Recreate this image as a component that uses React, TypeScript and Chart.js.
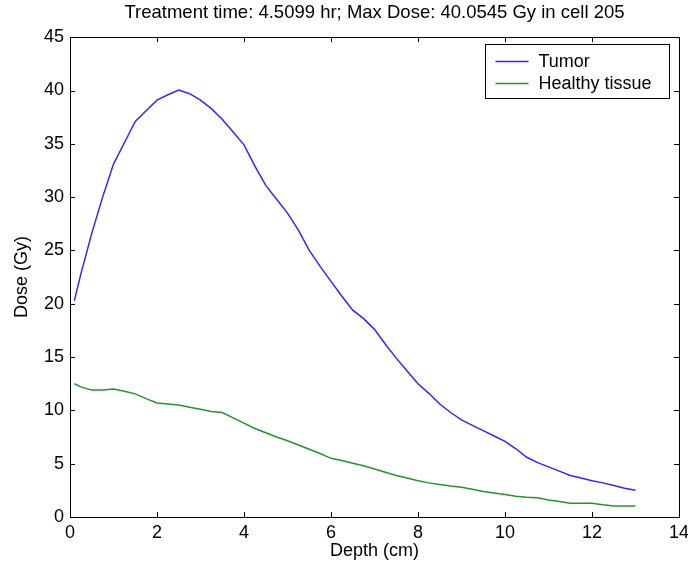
import React, { useEffect, useRef } from "react";
import { Chart, registerables } from "chart.js";

Chart.register(...registerables);

const depths = [
  0.1, 0.25, 0.5, 0.75, 1.0, 1.25, 1.5, 1.75, 2.0, 2.25, 2.5, 2.75, 3.0, 3.25, 3.5, 3.75,
  4.0, 4.25, 4.5, 4.75, 5.0, 5.25, 5.5, 5.75, 6.0, 6.25, 6.5, 6.75, 7.0, 7.25, 7.5, 7.75,
  8.0, 8.25, 8.5, 8.75, 9.0, 9.25, 9.5, 9.75, 10.0, 10.25, 10.5, 10.75, 11.0, 11.25, 11.5,
  11.75, 12.0, 12.25, 12.5, 12.75, 13.0,
];

const tumorDose = [
  20.3, 22.8, 26.6, 30.0, 33.1, 35.1, 37.1, 38.1, 39.1, 39.6, 40.05, 39.7, 39.1, 38.3, 37.3, 36.1,
  34.9, 32.9, 31.1, 29.8, 28.5, 26.9, 25.0, 23.5, 22.1, 20.7, 19.4, 18.6, 17.6, 16.2, 14.9, 13.7,
  12.5, 11.6, 10.6, 9.8, 9.1, 8.6, 8.1, 7.6, 7.1, 6.4, 5.6, 5.1, 4.7, 4.3, 3.9,
  3.65, 3.4, 3.2, 2.95, 2.7, 2.5,
];

const healthyDose = [
  12.5, 12.2, 11.9, 11.9, 12.0, 11.8, 11.55, 11.1, 10.7, 10.6, 10.5, 10.3, 10.1, 9.9, 9.8, 9.3,
  8.8, 8.3, 7.9, 7.5, 7.15, 6.75, 6.35, 5.95, 5.5, 5.3, 5.05, 4.8, 4.5, 4.2, 3.9, 3.65,
  3.4, 3.2, 3.05, 2.9, 2.8, 2.6, 2.4, 2.25, 2.1, 1.95, 1.85, 1.8, 1.6, 1.45, 1.3,
  1.3, 1.3, 1.15, 1.03, 1.03, 1.03,
];

const seriesLabels = ["Tumor", "Healthy tissue"];
const seriesColors = ["#2a2aff", "#2a922a"];
const titleText = "Treatment time: 4.5099 hr; Max Dose: 40.0545 Gy in cell 205";
const xTitle = "Depth (cm)";
const yTitle = "Dose (Gy)";

const FONT = "'Liberation Sans', Arial, sans-serif";
const FS = 18;

const boxPlugin = {
  id: "matlabBox",
  afterDraw(chart: any) {
    const { ctx, chartArea } = chart;
    const { left, right, top, bottom } = chartArea;
    const xs = chart.scales.x;
    const ys = chart.scales.y;
    ctx.save();
    ctx.strokeStyle = "#000";
    ctx.lineWidth = 1;
    ctx.beginPath();
    ctx.rect(Math.round(left) + 0.5, Math.round(top) + 0.5, Math.round(right - left), Math.round(bottom - top));
    ctx.stroke();
    const tl = 5;
    ctx.beginPath();
    xs.ticks.forEach((t: any) => {
      const px = Math.round(xs.getPixelForValue(t.value)) + 0.5;
      ctx.moveTo(px, bottom);
      ctx.lineTo(px, bottom - tl);
      ctx.moveTo(px, top);
      ctx.lineTo(px, top + tl);
    });
    ys.ticks.forEach((t: any) => {
      const py = Math.round(ys.getPixelForValue(t.value)) + 0.5;
      ctx.moveTo(left, py);
      ctx.lineTo(left + tl, py);
      ctx.moveTo(right, py);
      ctx.lineTo(right - tl, py);
    });
    ctx.stroke();

    // legend
    const lw = 184;
    const lh = 54;
    const lx = Math.round(right - 10 - lw) + 0.5;
    const ly = Math.round(top + 7) + 0.5;
    ctx.fillStyle = "#fff";
    ctx.fillRect(lx, ly, lw, lh);
    ctx.strokeStyle = "#000";
    ctx.strokeRect(lx, ly, lw, lh);
    ctx.font = `${FS}px ${FONT}`;
    ctx.textBaseline = "middle";
    ctx.textAlign = "left";
    chart.data.datasets.forEach((ds: any, i: number) => {
      const cy = Math.round(ly + 16 + i * 22) + 0.5;
      ctx.strokeStyle = ds.borderColor;
      ctx.lineWidth = 1.5;
      ctx.beginPath();
      ctx.moveTo(lx + 10, cy);
      ctx.lineTo(lx + 43, cy);
      ctx.stroke();
      ctx.fillStyle = "#000";
      ctx.fillText(ds.label, lx + 53, cy + 1);
    });
    ctx.restore();
  },
};

export default function App() {
  const ref = useRef<HTMLCanvasElement | null>(null);
  useEffect(() => {
    if (!ref.current) return;
    const chart = new Chart(ref.current, {
      type: "line",
      data: {
        datasets: [
          {
            label: seriesLabels[0],
            data: depths.map((d, i) => ({ x: d, y: tumorDose[i] })),
            borderColor: seriesColors[0],
            borderWidth: 1.5,
            pointRadius: 0,
            fill: false,
            tension: 0,
          },
          {
            label: seriesLabels[1],
            data: depths.map((d, i) => ({ x: d, y: healthyDose[i] })),
            borderColor: seriesColors[1],
            borderWidth: 1.5,
            pointRadius: 0,
            fill: false,
            tension: 0,
          },
        ],
      },
      options: {
        responsive: false,
        animation: false,
        layout: { padding: { left: 0, right: 9, top: 0, bottom: 0 } },
        plugins: {
          legend: { display: false },
          tooltip: { enabled: false },
          title: {
            display: true,
            fullSize: false,
            text: titleText,
            color: "#000",
            font: { family: FONT, size: 18.5, weight: "normal" },
            padding: { top: 2, bottom: 13 },
          },
        },
        scales: {
          x: {
            type: "linear",
            min: 0,
            max: 14,
            ticks: { stepSize: 2, color: "#000", padding: 5, font: { family: FONT, size: FS }, maxRotation: 0 },
            grid: { display: false, drawTicks: false },
            border: { display: false },
            title: {
              display: true,
              text: xTitle,
              color: "#000",
              font: { family: FONT, size: FS },
              padding: { top: 0, bottom: 11 },
            },
            afterFit: (s: any) => {
              s.height = 56;
              s.paddingRight = 9;
              s.paddingLeft = 0;
            },
          },
          y: {
            type: "linear",
            min: 0,
            max: 45,
            ticks: { stepSize: 5, color: "#000", padding: 6, font: { family: FONT, size: FS } },
            grid: { display: false, drawTicks: false },
            border: { display: false },
            title: {
              display: true,
              text: yTitle,
              color: "#000",
              font: { family: FONT, size: FS },
              padding: { top: 11, bottom: 0 },
            },
            afterFit: (s: any) => {
              s.width = 70;
            },
          },
        },
      },
      plugins: [boxPlugin],
    });
    return () => chart.destroy();
  }, []);
  return (
    <div style={{ position: "fixed", left: 0, top: 0, width: 688, height: 573, background: "#fff" }}>
      <canvas ref={ref} width={688} height={573} />
    </div>
  );
}
